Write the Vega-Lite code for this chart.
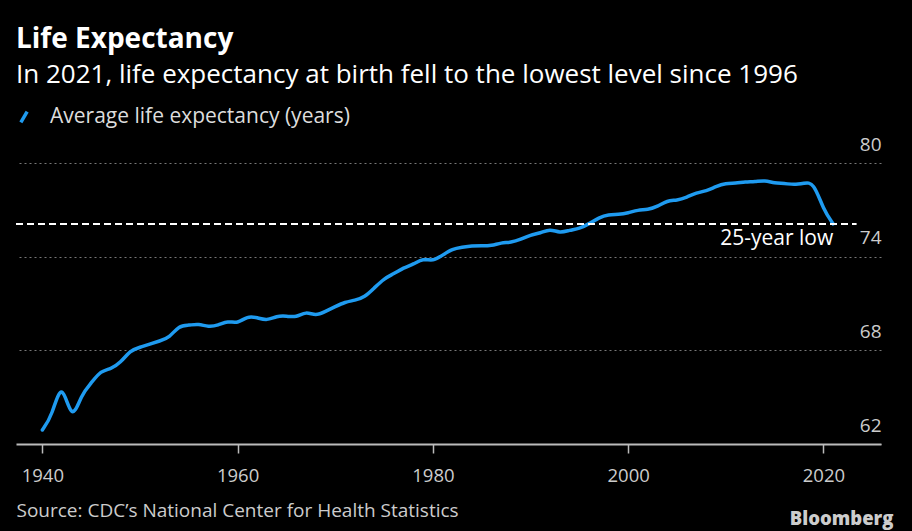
{
  "$schema": "https://vega.github.io/schema/vega-lite/v6.json",
  "width": 865,
  "height": 281,
  "autosize": {"type": "none"},
  "padding": {"left": 16, "top": 163, "right": 31, "bottom": 87},
  "background": "#000000",
  "config": {"view": {"stroke": null}},
  "title": {
    "text": "Life Expectancy",
    "subtitle": "In 2021, life expectancy at birth fell to the lowest level since 1996",
    "anchor": "start",
    "frame": "group",
    "font": "Open Sans",
    "fontSize": 28,
    "fontWeight": "bold",
    "color": "#ffffff",
    "subtitleFont": "Open Sans",
    "subtitleFontSize": 26,
    "subtitleColor": "#ffffff",
    "subtitlePadding": 8,
    "offset": 18
  },
  "layer": [
    {
      "data": {"values": [
        {"year":1940,"value":62.9},{"year":1941,"value":63.8},{"year":1942,"value":66.2},{"year":1943,"value":63.3},{"year":1944,"value":65.2},
        {"year":1945,"value":65.9},{"year":1946,"value":66.7},{"year":1947,"value":66.8},{"year":1948,"value":67.2},{"year":1949,"value":68.0},
        {"year":1950,"value":68.2},{"year":1951,"value":68.4},{"year":1952,"value":68.6},{"year":1953,"value":68.8},{"year":1954,"value":69.6},
        {"year":1955,"value":69.6},{"year":1956,"value":69.7},{"year":1957,"value":69.5},{"year":1958,"value":69.6},{"year":1959,"value":69.9},
        {"year":1960,"value":69.7},{"year":1961,"value":70.2},{"year":1962,"value":70.1},{"year":1963,"value":69.9},{"year":1964,"value":70.2},
        {"year":1965,"value":70.2},{"year":1966,"value":70.1},{"year":1967,"value":70.5},{"year":1968,"value":70.2},{"year":1969,"value":70.5},
        {"year":1970,"value":70.8},{"year":1971,"value":71.1},{"year":1972,"value":71.2},{"year":1973,"value":71.4},{"year":1974,"value":72.0},
        {"year":1975,"value":72.6},{"year":1976,"value":72.9},{"year":1977,"value":73.3},{"year":1978,"value":73.5},{"year":1979,"value":73.9},
        {"year":1980,"value":73.7},{"year":1981,"value":74.1},{"year":1982,"value":74.5},{"year":1983,"value":74.6},{"year":1984,"value":74.7},
        {"year":1985,"value":74.7},{"year":1986,"value":74.7},{"year":1987,"value":74.9},{"year":1988,"value":74.9},{"year":1989,"value":75.1},
        {"year":1990,"value":75.4},{"year":1991,"value":75.5},{"year":1992,"value":75.8},{"year":1993,"value":75.5},{"year":1994,"value":75.7},
        {"year":1995,"value":75.8},{"year":1996,"value":76.1},{"year":1997,"value":76.5},{"year":1998,"value":76.7},{"year":1999,"value":76.7},
        {"year":2000,"value":76.8},{"year":2001,"value":77.0},{"year":2002,"value":77.0},{"year":2003,"value":77.2},{"year":2004,"value":77.6},
        {"year":2005,"value":77.6},{"year":2006,"value":77.8},{"year":2007,"value":78.1},{"year":2008,"value":78.2},{"year":2009,"value":78.5},
        {"year":2010,"value":78.7},{"year":2011,"value":78.7},{"year":2012,"value":78.8},{"year":2013,"value":78.8},{"year":2014,"value":78.9},
        {"year":2015,"value":78.7},{"year":2016,"value":78.7},{"year":2017,"value":78.6},{"year":2018,"value":78.7},{"year":2019,"value":78.8},
        {"year":2020,"value":77.0},{"year":2021,"value":76.1}
      ]},
      "mark": {"type": "line", "interpolate": "basis", "strokeWidth": 3.5, "strokeCap": "round", "clip": false},
      "encoding": {
        "x": {
          "field": "year", "type": "quantitative",
          "scale": {"domain": [1937.3, 2025.9], "nice": false, "zero": false},
          "axis": {
            "orient": "bottom",
            "values": [1940, 1960, 1980, 2000, 2020],
            "format": "d",
            "grid": false,
            "domainColor": "#bbbbbb",
            "domainWidth": 2,
            "tickColor": "#bbbbbb",
            "tickSize": 9,
            "tickWidth": 1.5,
            "labelColor": "#cccccc",
            "labelFont": "Open Sans",
            "labelFontSize": 18.5,
            "labelPadding": 13,
            "labelFlush": false,
            "title": "Source: CDC\u2019s National Center for Health Statistics",
            "titleAnchor": "start",
            "titleAlign": "left",
            "titleColor": "#cccccc",
            "titleFont": "Open Sans",
            "titleFontSize": 19,
            "titleFontWeight": "normal",
            "titlePadding": 17
          }
        },
        "y": {
          "field": "value", "type": "quantitative",
          "scale": {"domain": [62, 80], "nice": false, "zero": false},
          "axis": {
            "orient": "right",
            "values": [62, 68, 74, 80],
            "grid": true,
            "gridColor": "#777777",
            "gridDash": [2, 3],
            "gridWidth": 1,
            "domain": false,
            "ticks": false,
            "labelAlign": "right",
            "labelBaseline": "alphabetic",
            "labelOffset": -13,
            "labelPadding": 0,
            "labelColor": "#cccccc",
            "labelFont": "Open Sans",
            "labelFontSize": 19,
            "title": "Bloomberg",
            "titleAngle": 0,
            "titleX": 12,
            "titleY": 361,
            "titleAlign": "right",
            "titleBaseline": "alphabetic",
            "titleFont": "Open Sans",
            "titleFontWeight": 800,
            "titleFontSize": 18.5,
            "titleColor": "#cccccc"
          }
        },
        "color": {
          "datum": "Average life expectancy (years)",
          "type": "nominal",
          "scale": {"range": ["#1f9bf0"]},
          "legend": {
            "orient": "none",
            "legendX": -3,
            "legendY": -57,
            "title": null,
            "symbolType": "M-0.35,0.6L0.35,-0.6",
            "symbolStrokeWidth": 3.5,
            "symbolSize": 320,
            "labelFontSize": 21,
            "labelLimit": 0,
            "labelColor": "#dddddd",
            "labelFont": "Open Sans",
            "labelOffset": 15
          }
        }
      }
    },
    {
      "data": {"values": [{"year": 2021, "value": 76.1, "label": "25-year low"}]},
      "mark": {"type": "rule", "color": "#ffffff", "strokeWidth": 2, "strokeDash": [7, 4]},
      "encoding": {
        "x": {"datum": 1937.3},
        "x2": {"datum": 2023.4},
        "y": {"field": "value", "type": "quantitative"}
      }
    },
    {
      "data": {"values": [{"year": 2021, "value": 76.1, "label": "25-year low"}]},
      "mark": {"type": "text", "align": "right", "baseline": "top", "dy": 4, "color": "#ffffff", "font": "Open Sans", "fontSize": 21},
      "encoding": {
        "x": {"field": "year", "type": "quantitative"},
        "y": {"field": "value", "type": "quantitative"},
        "text": {"field": "label"}
      }
    }
  ]
}
